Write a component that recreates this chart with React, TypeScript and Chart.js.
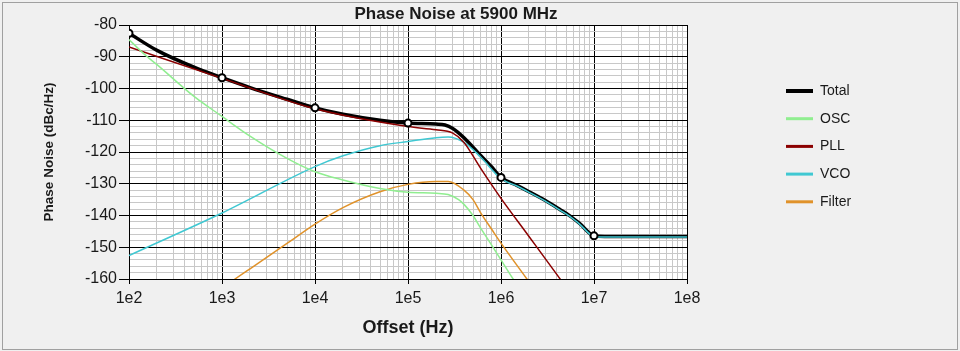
import React, { useEffect, useRef } from 'react';
import { Chart, registerables } from 'chart.js';

Chart.register(...registerables);

// ---- Text ----
const chartTitle = 'Phase Noise at 5900 MHz';
const xAxisTitle = 'Offset (Hz)';
const yAxisTitle = 'Phase Noise (dBc/Hz)';

// ---- Axes ----
const xDecades = [1e2, 1e3, 1e4, 1e5, 1e6, 1e7, 1e8];
const xTickLabels = ['1e2', '1e3', '1e4', '1e5', '1e6', '1e7', '1e8'];
const yMin = -160;
const yMax = -80;
const yMajorStep = 10;
const yMinorStep = 2;

// ---- Series (offset in Hz, noise in dBc/Hz) ----
const seriesNames = ['Total', 'OSC', 'PLL', 'VCO', 'Filter'];
const seriesColors = ['#000000', '#90ee90', '#8b0000', '#40c8d2', '#e0922a'];

const totalFreq = [1e2, 2e2, 5e2, 1e3, 2e3, 5e3, 1e4, 2e4, 5e4, 1e5, 2e5, 2.5e5, 3e5, 4e5, 6e5, 8e5, 1e6, 1.5e6, 2e6, 3e6, 4.3e6, 5.5e6, 7e6, 1e7, 1.3e7, 2e7, 5e7, 1e8];
const totalNoise = [-82.6, -88.0, -93.3, -96.6, -99.7, -103.4, -106.1, -108.1, -110.0, -110.9, -111.2, -111.5, -112.5, -115.5, -121.0, -124.8, -128.0, -130.6, -132.5, -135.3, -138.1, -140.1, -142.5, -146.4, -146.6, -146.6, -146.6, -146.6];
const totalMarkerFreq = [1e2, 1e3, 1e4, 1e5, 1e6, 1e7];

const oscFreq = [1e2, 1.5e2, 2e2, 5e2, 1e3, 2e3, 5e3, 1e4, 2e4, 5e4, 1e5, 2e5, 2.7e5, 3.5e5, 4e5, 5e5, 6e5, 8e5, 1e6, 1.35e6, 2e6];
const oscNoise = [-84.6, -89.5, -92.5, -102.5, -108.8, -115.0, -122.0, -126.2, -128.8, -131.5, -132.7, -133.0, -133.4, -135.0, -136.5, -140.0, -143.8, -149.5, -154.0, -160.0, -167.5];

const pllFreq = [1e2, 1e3, 1e4, 1e5, 2e5, 3e5, 4e5, 6e5, 1e6, 2e6, 4.2e6, 5e6];
const pllNoise = [-86.9, -96.8, -106.4, -112.0, -113.0, -114.0, -117.0, -125.0, -134.6, -146.6, -159.5, -162.6];

const vcoFreq = [1e2, 1e3, 1e4, 2e4, 5e4, 1e5, 2e5, 2.7e5, 4e5, 6e5, 1e6, 1.5e6, 2e6, 3e6, 4.3e6, 5.5e6, 7e6, 1e7, 1.3e7, 2e7, 1e8];
const vcoNoise = [-152.6, -139.2, -124.6, -121.2, -118.0, -116.7, -115.5, -115.3, -117.0, -121.5, -128.4, -130.8, -132.7, -135.5, -138.3, -140.3, -142.7, -146.6, -146.8, -146.8, -146.8];

const filterFreq = [1e3, 1.38e3, 2e3, 5e3, 1e4, 2e4, 5e4, 1e5, 2e5, 2.7e5, 4e5, 5e5, 6e5, 8e5, 1e6, 1.9e6, 2.5e6];
const filterNoise = [-163.0, -160.0, -156.8, -148.8, -142.7, -137.5, -132.5, -130.2, -129.3, -129.3, -132.0, -135.0, -139.0, -144.5, -148.7, -160.0, -164.8];

const FONT = '"Liberation Sans", Arial, sans-serif';

const toPoints = (freq: number[], vals: number[]) =>
  freq.map((f, i) => ({ x: f, y: vals[i] }));

const xAllTicks = (() => {
  const out: number[] = [];
  xDecades.forEach((d, i) => {
    if (i === xDecades.length - 1) {
      out.push(d);
      return;
    }
    for (let m = 1; m < 10; m++) out.push(m * d);
  });
  return out;
})();

const yAllTicks = (() => {
  const out: number[] = [];
  for (let v = yMin; v <= yMax; v += yMinorStep) out.push(v);
  return out;
})();

// Panel background, frame, white plot area, titles and the side legend
const decorPlugin = {
  id: 'decor',
  beforeDraw(chart: any) {
    const { ctx, chartArea } = chart;
    ctx.save();
    ctx.fillStyle = '#f0f0f0';
    ctx.fillRect(0, 0, chart.width, chart.height);
    ctx.strokeStyle = '#a0a0a0';
    ctx.lineWidth = 1;
    ctx.strokeRect(2.5, 2.5, chart.width - 5, chart.height - 4);
    ctx.fillStyle = '#ffffff';
    ctx.fillRect(chartArea.left, chartArea.top, chartArea.right - chartArea.left, chartArea.bottom - chartArea.top);
    ctx.restore();
  },
  afterDraw(chart: any) {
    const { ctx, chartArea } = chart;
    const cx = (chartArea.left + chartArea.right) / 2;
    const cy = (chartArea.top + chartArea.bottom) / 2;
    ctx.save();
    ctx.fillStyle = '#1a1a1a';
    ctx.textAlign = 'center';
    ctx.textBaseline = 'alphabetic';
    ctx.font = `bold 17px ${FONT}`;
    ctx.fillText(chartTitle, 456, 19);
    ctx.font = `bold 18px ${FONT}`;
    ctx.fillText(xAxisTitle, cx, 333);
    ctx.save();
    ctx.translate(49, cy);
    ctx.rotate(-Math.PI / 2);
    ctx.textBaseline = 'middle';
    ctx.font = `bold 13.5px ${FONT}`;
    ctx.fillText(yAxisTitle, 0, 0);
    ctx.restore();

    // legend
    const ds = chart.data.datasets.filter((d: any) => seriesNames.includes(d.label));
    ctx.textAlign = 'left';
    ctx.textBaseline = 'middle';
    ctx.font = `14px ${FONT}`;
    ds.forEach((d: any, i: number) => {
      const y = 91 + i * 27.7;
      ctx.strokeStyle = d.borderColor;
      ctx.lineWidth = i === 0 ? 4 : 3;
      ctx.beginPath();
      ctx.moveTo(786, y);
      ctx.lineTo(813, y);
      ctx.stroke();
      ctx.fillStyle = '#1a1a1a';
      ctx.fillText(d.label, 820, y);
    });
    ctx.restore();
  },
};

export default function App() {
  const canvasRef = useRef<HTMLCanvasElement | null>(null);

  useEffect(() => {
    const canvas = canvasRef.current;
    if (!canvas) return;

    const seriesData = [
      toPoints(totalFreq, totalNoise),
      toPoints(oscFreq, oscNoise),
      toPoints(pllFreq, pllNoise),
      toPoints(vcoFreq, vcoNoise),
      toPoints(filterFreq, filterNoise),
    ];

    const lineSets = seriesNames.map((name, i) => ({
      label: name,
      data: seriesData[i],
      borderColor: seriesColors[i],
      backgroundColor: seriesColors[i],
      borderWidth: i === 0 ? 3.5 : 1.5,
      pointRadius: 0,
      cubicInterpolationMode: 'monotone' as const,
      order: i === 0 ? 2 : 1,
    }));

    const markerSet = {
      label: 'Total markers',
      data: totalMarkerFreq.map((f) => ({ x: f, y: totalNoise[totalFreq.indexOf(f)] })),
      showLine: false,
      pointRadius: 3.5,
      pointBorderWidth: 2,
      pointBackgroundColor: '#ffffff',
      pointBorderColor: '#000000',
      borderColor: '#000000',
      order: 0,
    };

    const chart = new Chart(canvas, {
      type: 'line',
      data: { datasets: [...lineSets, markerSet] as any },
      plugins: [decorPlugin],
      options: {
        responsive: false,
        animation: false,
        devicePixelRatio: 1,
        events: [],
        layout: { padding: { left: 0, top: 25, right: 273, bottom: 0 } },
        plugins: {
          legend: { display: false },
          title: { display: false },
          tooltip: { enabled: false },
        },
        scales: {
          x: {
            type: 'logarithmic',
            min: xDecades[0],
            max: xDecades[xDecades.length - 1],
            afterBuildTicks: (scale: any) => {
              scale.ticks = xAllTicks.map((v) => ({ value: v }));
            },
            afterFit: (scale: any) => {
              scale.height = 72;
            },
            ticks: {
              autoSkip: false,
              maxRotation: 0,
              padding: 5,
              color: '#1a1a1a',
              font: { family: FONT, size: 16 },
              callback: (value: any) => {
                const k = xDecades.indexOf(Number(value));
                return k >= 0 ? xTickLabels[k] : '';
              },
            },
            grid: {
              color: (c: any) => (c.tick && xDecades.includes(c.tick.value) ? '#000000' : '#c8c8c8'),
              tickColor: (c: any) => (c.tick && xDecades.includes(c.tick.value) ? '#000000' : 'rgba(0,0,0,0)'),
              tickLength: 5,
              lineWidth: 1,
            },
            border: { color: '#000000' },
          },
          y: {
            type: 'linear',
            min: yMin,
            max: yMax,
            afterBuildTicks: (scale: any) => {
              scale.ticks = yAllTicks.map((v) => ({ value: v }));
            },
            afterFit: (scale: any) => {
              scale.width = 129;
            },
            ticks: {
              autoSkip: false,
              padding: 2,
              color: '#1a1a1a',
              font: { family: FONT, size: 16 },
              callback: (value: any) => (Number(value) % yMajorStep === 0 ? String(value) : ''),
            },
            grid: {
              color: (c: any) => (c.tick && c.tick.value % yMajorStep === 0 ? '#000000' : '#c8c8c8'),
              tickColor: (c: any) => (c.tick && c.tick.value % yMajorStep === 0 ? '#000000' : 'rgba(0,0,0,0)'),
              tickLength: 10,
              lineWidth: 1,
            },
            border: { color: '#000000' },
          },
        },
      },
    });

    return () => chart.destroy();
  }, []);

  return (
    <div style={{ position: 'absolute', left: 0, top: 0, width: 960, height: 351 }}>
      <canvas ref={canvasRef} width={960} height={351} style={{ display: 'block' }} />
    </div>
  );
}
